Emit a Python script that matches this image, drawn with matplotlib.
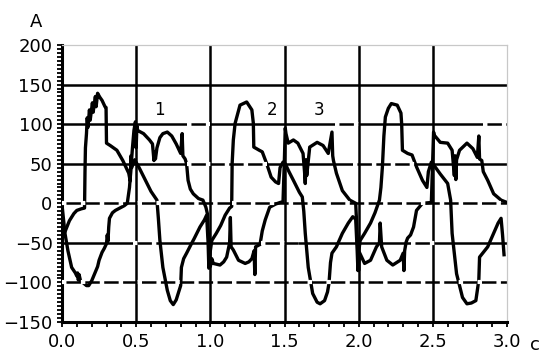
import numpy as np
import matplotlib.pyplot as plt
from matplotlib.ticker import MultipleLocator, FormatStrFormatter

plt.rcParams['font.family'] = ['DejaVu Sans']
plt.rcParams['lines.scale_dashes'] = False

# ток с большой полуволной (кривая 2)
t_big = [0.0, 0.02, 0.05, 0.08, 0.10, 0.13, 0.152, 0.155, 0.158, 0.165, 0.17, 0.175,
         0.185, 0.19, 0.205, 0.21, 0.225, 0.23, 0.24, 0.255, 0.27, 0.29, 0.297, 0.30,
         0.325, 0.37, 0.41, 0.45, 0.46, 0.465, 0.47, 0.49, 0.52, 0.56, 0.60, 0.64,
         0.65, 0.66, 0.68, 0.71, 0.73, 0.75, 0.77, 0.79, 0.80, 0.805, 0.82, 0.84,
         0.87, 0.89, 0.93, 0.96, 0.975, 0.985, 0.99, 1.0, 1.01, 1.04, 1.07, 1.10,
         1.13, 1.144, 1.147, 1.155, 1.167, 1.20, 1.245, 1.28, 1.29, 1.293, 1.33,
         1.35, 1.38, 1.41, 1.44, 1.46, 1.47, 1.49, 1.505, 1.53, 1.56, 1.60, 1.62,
         1.63, 1.64, 1.66, 1.69, 1.72, 1.74, 1.77, 1.79, 1.80, 1.81, 1.82, 1.85,
         1.89, 1.93, 1.96, 1.98, 1.99, 1.995, 2.0, 2.01, 2.04, 2.08, 2.11, 2.14,
         2.15, 2.16, 2.17, 2.18, 2.20, 2.22, 2.26, 2.285, 2.29, 2.295, 2.33, 2.36,
         2.39, 2.43, 2.46, 2.47, 2.49, 2.50, 2.55, 2.60, 2.62, 2.63, 2.66, 2.70,
         2.73, 2.76, 2.79, 2.80, 2.81, 2.815, 2.84, 2.87, 2.91, 2.94, 2.96, 2.97,
         2.98]
i_big = [-45, -36, -22, -13, -9, -7, -6, 40, 70, 88, 108, 96,
         118, 105, 127, 115, 135, 122, 139, 134, 130, 122, 121, 76,
         73, 67, 54, 38, 28, 60, 45, 55, 45, 30, 15, 4,
         -20, -47, -81, -110, -123, -128, -122, -110, -104, -81, -70, -63,
         -52, -45, -30, -21, -15, -50, -82, -60, -47, -38, -28, -15,
         -6, -4, 50, 80, 101, 124, 128, 118, 101, 71, 67,
         65, 50, 33, 27, 25, 45, 52, 50, 40, 29, 14, 8,
         -10, -38, -81, -114, -125, -127, -123, -112, -101, -75, -63, -55,
         -38, -25, -17, -20, -60, -85, -62, -47, -38, -25, -12, 4,
         20, 46, 85, 109, 120, 126, 124, 114, 100, 67, 63, 61,
         46, 29, 20, 40, 52, 50, 37, 25, 4, -38, -89, -119,
         -127, -126, -123, -110, -97, -68, -62, -55, -38, -25, -19, -40,
         -65]

# токи с двойными горбами (кривые 1 и 3)
t_hump = [0.0, 0.01, 0.02, 0.04, 0.065, 0.09, 0.10, 0.105, 0.11, 0.115, 0.125, 0.14,
          0.165, 0.18, 0.20, 0.22, 0.24, 0.25, 0.27, 0.285, 0.30, 0.305, 0.31, 0.315,
          0.32, 0.34, 0.36, 0.40, 0.42, 0.44, 0.455, 0.465, 0.475, 0.485, 0.495, 0.50,
          0.505, 0.51, 0.53, 0.55, 0.57, 0.59, 0.61, 0.62, 0.625, 0.63, 0.64, 0.66,
          0.68, 0.71, 0.74, 0.77, 0.80, 0.81, 0.815, 0.83, 0.84, 0.85, 0.865, 0.885,
          0.92, 0.95, 0.97, 0.98, 0.985, 0.995, 1.0, 1.01, 1.02, 1.065, 1.09, 1.11,
          1.13, 1.135, 1.14, 1.155, 1.19, 1.235, 1.26, 1.28, 1.295, 1.30, 1.305, 1.335,
          1.35, 1.37, 1.40, 1.44, 1.47, 1.49, 1.50, 1.505, 1.51, 1.525, 1.56, 1.59,
          1.625, 1.635, 1.64, 1.645, 1.65, 1.67, 1.72, 1.76, 1.795, 1.82, 1.825, 1.83,
          1.85, 1.89, 1.94, 1.98, 1.99, 2.0, 2.005, 2.04, 2.08, 2.12, 2.14, 2.145,
          2.155, 2.19, 2.23, 2.28, 2.30, 2.305, 2.31, 2.32, 2.33, 2.35, 2.37, 2.39,
          2.43, 2.49, 2.50, 2.505, 2.51, 2.55, 2.60, 2.63, 2.645, 2.65, 2.655, 2.66,
          2.68, 2.73, 2.77, 2.80, 2.81, 2.815, 2.83, 2.84, 2.87, 2.91, 2.96, 3.0]
i_hump = [-2, -20, -38, -60, -81, -88, -92, -88, -97, -90, -98, -100,
          -104, -104, -98, -89, -80, -72, -62, -57, -51, -40, -48, -30,
          -19, -12, -9, -5, -3, 0, 20, 45, 70, 92, 103, 70,
          98, 92, 90, 88, 84, 80, 75, 54, 65, 56, 70, 83,
          88, 90, 85, 75, 63, 88, 60, 56, 50, 29, 18, 12,
          6, 4, -5, -13, -34, -63, -80, -70, -76, -78, -74, -68,
          -50, -18, -55, -59, -72, -76, -74, -70, -60, -90, -55, -52,
          -35, -21, -5, -1, 1, 2, 60, 95, 88, 76, 80, 76,
          63, 40, 25, 55, 35, 71, 77, 73, 63, 90, 60, 54,
          38, 16, 4, 0, -40, -85, -62, -76, -72, -55, -50, -25,
          -55, -72, -78, -72, -63, -85, -60, -49, -44, -40, -30, -9,
          0, 1, 60, 90, 86, 77, 76, 67, 35, 60, 30, 55,
          67, 76, 69, 58, 85, 56, 54, 40, 29, 12, 4, 1]

x_ticks = [0.0, 0.5, 1.0, 1.5, 2.0, 2.5, 3.0]
y_ticks = [-150, -100, -50, 0, 50, 100, 150, 200]
grid_x = [0.5, 1.0, 1.5, 2.0, 2.5]
grid_y = [-100, -50, 0, 50, 100, 150]

curve_names = ['1', '2', '3']
name_x = [0.66, 1.415, 1.73]
name_y = [118, 118, 118]

# белые штрихи поверх сетки: (уровень, начало, конец)
white_dash = [(100, 0.84, 1.0), (100, 1.84, 2.0), (100, 2.84, 3.0),
              (50, 0.84, 1.47), (50, 1.96, 2.46),
              (0, 0.0, 3.0),
              (-50, 0.48, 0.66), (-50, 1.34, 1.6), (-50, 2.35, 2.6),
              (-100, 0.0, 3.0)]

fig = plt.figure(figsize=(5.42, 3.58), dpi=100)
ax = fig.add_axes([62 / 542, 36 / 358, 445 / 542, 277 / 358])

for gx in grid_x:
    ax.axvline(gx, color='black', lw=1.8, zorder=1)
for gy in grid_y:
    ax.axhline(gy, color='black', lw=1.8, zorder=1)

ax.plot(t_big, i_big, color='black', lw=2.4, zorder=3, solid_joinstyle='round')
ax.plot(t_hump, i_hump, color='black', lw=2.4, zorder=3, solid_joinstyle='round')

for lev, x0, x1 in white_dash:
    ax.plot([x0, x1], [lev, lev], color='white', lw=3.0, dashes=(3.2, 10.4),
            dash_capstyle='butt', zorder=5)

for nm, nx, ny in zip(curve_names, name_x, name_y):
    ax.text(nx, ny, nm, fontsize=12, ha='center', va='center', zorder=6)

ax.set_xlim(0, 3.0)
ax.set_ylim(-150, 200)
ax.set_xticks(x_ticks)
ax.set_yticks(y_ticks)
ax.xaxis.set_major_formatter(FormatStrFormatter('%.1f'))
ax.xaxis.set_minor_locator(MultipleLocator(0.1))
ax.yaxis.set_minor_locator(MultipleLocator(5))
ax.tick_params(which='both', direction='out', width=1.3, length=3.8, color='black')
ax.tick_params(axis='x', labelsize=13, pad=4)
ax.tick_params(axis='y', labelsize=13, pad=3)
ax.tick_params(top=False, right=False)

for s in ['left', 'bottom']:
    ax.spines[s].set_linewidth(2.2)
for s in ['top', 'right']:
    ax.spines[s].set_color('#c8c8c8')
    ax.spines[s].set_linewidth(0.9)

fig.text(36 / 542, 1 - 22 / 358, 'A', fontsize=13, ha='center', va='center')
fig.text(535 / 542, 1 - 345 / 358, 'c', fontsize=13, ha='center', va='center')

plt.savefig('out.png', dpi=100)
